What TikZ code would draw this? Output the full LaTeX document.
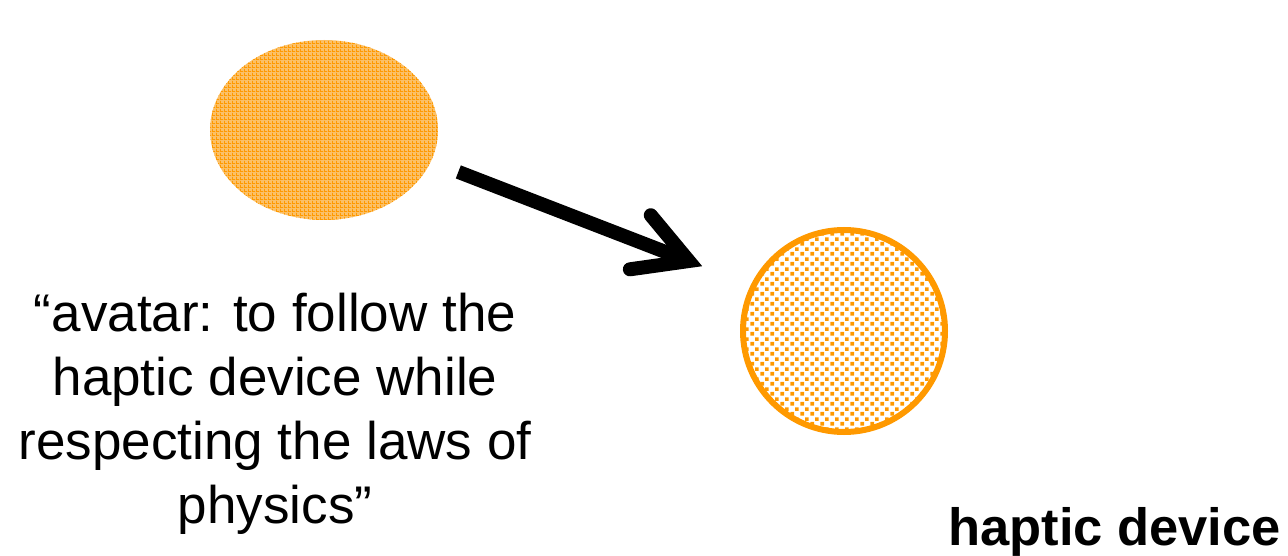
\documentclass[tikz,border=0pt]{standalone}
\usepackage{fontspec}
\setmainfont{Liberation Sans}
\usetikzlibrary{arrows.meta, positioning, shapes.geometric, patterns}
\definecolor{corange}{HTML}{FF9900}
\definecolor{clight}{HTML}{FBC068}
% coarse grid and staggered square dots
\pgfdeclarepatternformonly{meshgrid}{\pgfqpoint{0pt}{0pt}}{\pgfqpoint{4pt}{4pt}}{\pgfqpoint{4pt}{4pt}}{%
  \pgfpathrectangle{\pgfqpoint{0pt}{0pt}}{\pgfqpoint{4pt}{1pt}}%
  \pgfpathrectangle{\pgfqpoint{0pt}{0pt}}{\pgfqpoint{1pt}{4pt}}%
  \pgfusepath{fill}}
\pgfdeclarepatternformonly{squaredots}{\pgfqpoint{0pt}{0pt}}{\pgfqpoint{10pt}{10pt}}{\pgfqpoint{10pt}{10pt}}{%
  \pgfpathrectangle{\pgfqpoint{0.5pt}{0.5pt}}{\pgfqpoint{4pt}{4pt}}%
  \pgfpathrectangle{\pgfqpoint{5.5pt}{5.5pt}}{\pgfqpoint{4pt}{4pt}}%
  \pgfusepath{fill}}
\tikzset{
  every picture/.style={x=1pt, y=-1pt},
  avatarblob/.style={ellipse, draw=none, minimum width=228pt, minimum height=180pt, inner sep=0pt,
    preaction={fill=clight}, pattern=meshgrid, pattern color=corange},
  deviceblob/.style={circle, draw=corange, line width=6pt, minimum size=202pt, inner sep=0pt,
    pattern=squaredots, pattern color=corange},
  arrow/.style={-{Straight Barb[length=52pt, width=58pt, line cap=round]}, line width=14pt},
  quote/.style={font=\fontsize{53}{64}\selectfont, align=center, inner sep=0pt},
  title/.style={font=\fontsize{52.5}{62}\selectfont\bfseries, inner sep=0pt},
}

\begin{document}
\begin{tikzpicture}
  \useasboundingbox (0,0) rectangle (1288,556);
  \node[avatarblob] (avatar) at (324,130) {};
  \node[deviceblob] (device) at (844,331) {};
  \draw[arrow, shorten <=144pt, shorten >=152pt] ([yshift=10pt]avatar.center) -- ([yshift=10pt]device.center);
  \node[quote] (motto) at (275,414) {“avatar: to follow the\\haptic device while\\respecting the laws of\\physics”};
  \node[title, anchor=base east] (label) at (1281,545) {haptic device};
\end{tikzpicture}
\end{document}
